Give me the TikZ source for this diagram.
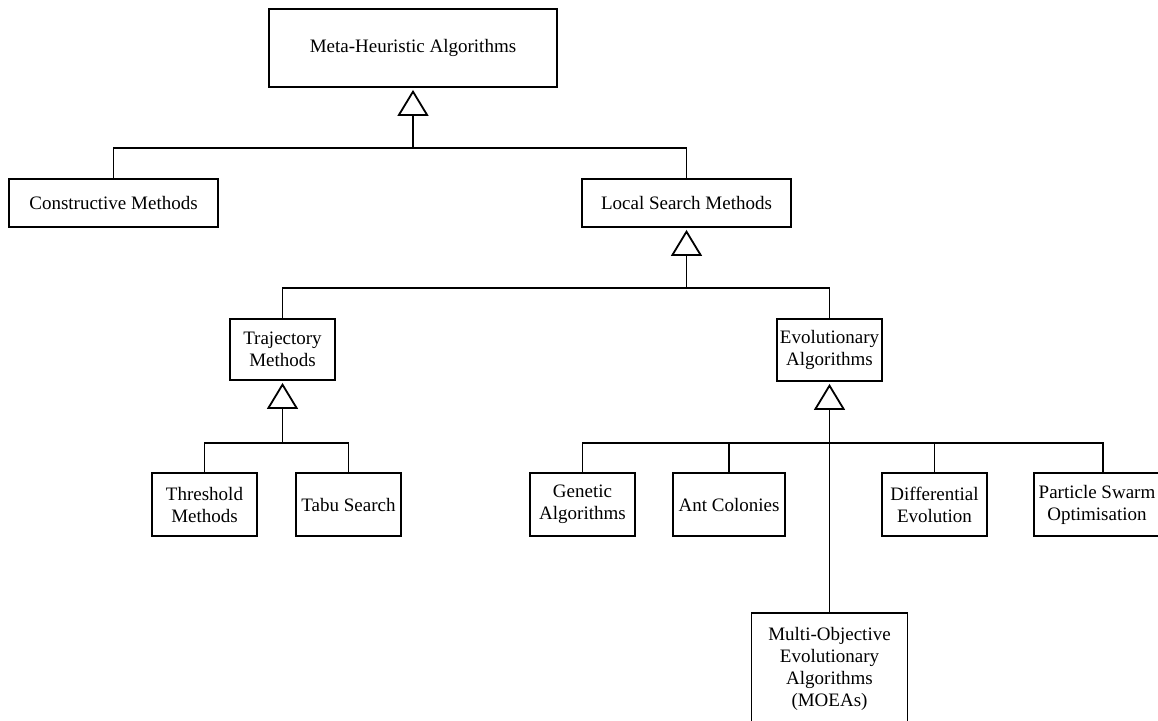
\documentclass[tikz,border=0pt]{standalone}
\usepackage{fontspec}
\setmainfont{Liberation Serif}
\usetikzlibrary{arrows.meta}

\begin{document}
\begin{tikzpicture}[
  x=0.5pt, y=-0.5pt,
  line width=0.9pt,
  box/.style={draw, rectangle, align=center, inner sep=0pt,
              font=\fontsize{9.5}{11}\selectfont},
  label text/.style={align=center, inner sep=0pt,
              font=\fontsize{9.5}{11}\selectfont},
  link/.style={line width=0.9pt},
  inherit/.style={-{Triangle[open, length=13pt, width=15.5pt]}, shorten >=1pt, line width=0.9pt}
]
  % page frame (also cuts the two boxes that run off the edge)
  \clip (0,0) rectangle (1158,720);
  \fill[white] (0,0) rectangle (1158,720);

  % boxes
  \node[box, minimum width=144pt, minimum height=39pt] (meta)  at (413,48)    {Meta-Heuristic Algorithms};
  \node[box, minimum width=104.5pt, minimum height=24pt] (cons) at (113.5,203) {Constructive Methods};
  \node[box, minimum width=104.5pt, minimum height=24pt] (local) at (686.5,203) {Local Search Methods};

  \node[box, minimum width=52.5pt, minimum height=30.5pt] (traj) at (282.5,349.5) {Trajectory\\Methods};
  \node[box, minimum width=52.5pt, minimum height=31pt]   (evo)  at (829.5,350)   {Evolutionary\\Algorithms};

  \node[box, minimum width=52.5pt, minimum height=31.5pt] (thr)  at (204.5,504.5) {Threshold\\Methods};
  \node[box, minimum width=52.5pt, minimum height=31.5pt] (tabu) at (348.5,504.5) {Tabu Search};

  \node[box, minimum width=52.5pt, minimum height=31.5pt] (gen)  at (582.5,504.5) {Genetic\\Algorithms};
  \node[box, minimum width=56pt,   minimum height=31.5pt] (ant)  at (729,504.5)   {Ant Colonies};
  \node[box, minimum width=52.5pt, minimum height=31.5pt] (diff) at (934.5,504.5) {Differential\\Evolution};
  \node[box, minimum width=69pt,   minimum height=31.5pt] (pso)  at (1103,504.5)  {};
  \node[label text] (psotext) at (1097,504.5) {Particle Swarm\\Optimisation};

  \node[box, minimum width=78pt, minimum height=56pt] (moea) at (829.5,669)
       {Multi-Objective\\Evolutionary\\Algorithms\\(MOEAs)};

  % junction points of the buses
  \coordinate (b1) at (413,148);
  \coordinate (b2) at (686.5,288);
  \coordinate (b3) at (282.5,443);
  \coordinate (b4) at (829.5,443);

  % level 1
  \draw[link] (cons.north) |- (b1) -| (local.north);
  \draw[inherit] (b1) -- (meta.south);

  % level 2
  \draw[link] (traj.north) |- (b2) -| (evo.north);
  \draw[inherit] (b2) -- (local.south);

  % trajectory methods
  \draw[link] (thr.north) |- (b3) -| (tabu.north);
  \draw[inherit] (b3) -- (traj.south);

  % evolutionary algorithms
  \draw[link] (gen.north) |- (b4) -| (pso.north);
  \draw[link] (ant.north) |- (b4);
  \draw[link] (diff.north) |- (b4);
  \draw[link] (moea.north) -- (b4);
  \draw[inherit] (b4) -- (evo.south);
\end{tikzpicture}
\end{document}
